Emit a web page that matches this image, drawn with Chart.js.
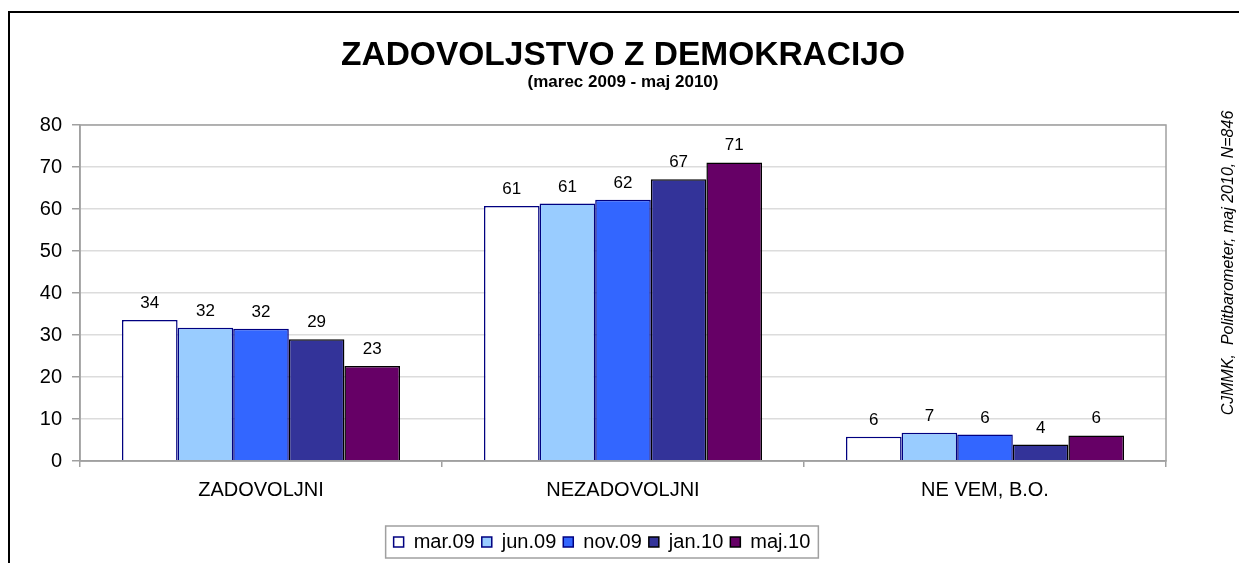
<!DOCTYPE html>
<html>
<head>
<meta charset="utf-8">
<script src="https://cdn.jsdelivr.net/npm/chart.js@4/dist/chart.umd.min.js"></script>
<style>
  body { margin: 0; background: #fff; }
  #wrap { width: 1239px; height: 563px; }
</style>
</head>
<body>
<div id="wrap"><canvas id="c" width="1239" height="563"></canvas></div>
<script>
// categories and series
const categories = ["ZADOVOLJNI", "NEZADOVOLJNI", "NE VEM, B.O."];
const mar09 = [33.6, 60.7, 5.8];
const jun09 = [31.7, 61.3, 6.7];
const nov09 = [31.5, 62.2, 6.3];
const jan10 = [29.0, 67.1, 3.9];
const maj10 = [22.6, 71.1, 6.1];
const seriesNames = ["mar.09", "jun.09", "nov.09", "jan.10", "maj.10"];
const yTicks = [0, 10, 20, 30, 40, 50, 60, 70, 80];

const FONT = "Arial, 'Liberation Sans', sans-serif";
const fills = ["#ffffff", "#99ccff", "#3366ff", "#333399", "#660066"];
const borders = ["#000080", "#000080", "#000080", "#000000", "#000000"];

const datasets = [mar09, jun09, nov09, jan10, maj10].map((d, i) => ({
  label: seriesNames[i],
  data: d,
  backgroundColor: fills[i],
  borderColor: borders[i],
  borderWidth: 1.5,
  categoryPercentage: 0.768,
  barPercentage: 1.0
}));

// frame, plot border, legend box, value labels, source note
const extras = {
  id: "extras",
  beforeDraw(chart) {
    const ctx = chart.ctx;
    ctx.save();
    ctx.fillStyle = "#fff";
    ctx.fillRect(0, 0, chart.width, chart.height);
    ctx.strokeStyle = "#000";
    ctx.lineWidth = 2;
    ctx.strokeRect(9, 12, chart.width + 20, chart.height + 20);
    ctx.restore();
  },
  afterDatasetsDraw(chart) {
    const ctx = chart.ctx;
    const a = chart.chartArea;
    ctx.save();
    ctx.strokeStyle = "#a0a0a0";
    ctx.lineWidth = 1.5;
    ctx.strokeRect(a.left, a.top, a.right - a.left, a.bottom - a.top);
    ctx.fillStyle = "#000";
    ctx.font = "17px " + FONT;
    ctx.textAlign = "center";
    ctx.textBaseline = "alphabetic";
    chart.data.datasets.forEach((ds, i) => {
      chart.getDatasetMeta(i).data.forEach((bar, j) => {
        ctx.fillText(String(Math.round(ds.data[j])), bar.x, bar.y - 12);
      });
    });
    ctx.restore();
  },
  afterDraw(chart) {
    const ctx = chart.ctx;
    const boxes = chart.legend.legendHitBoxes;
    if (boxes && boxes.length) {
      let l = Infinity, r = -Infinity, t = Infinity, b = -Infinity;
      boxes.forEach(h => {
        l = Math.min(l, h.left); r = Math.max(r, h.left + h.width);
        t = Math.min(t, h.top); b = Math.max(b, h.top + h.height);
      });
      ctx.save();
      ctx.strokeStyle = "#a0a0a0";
      ctx.lineWidth = 1.5;
      ctx.strokeRect(l - 8, t - 6, r - l + 16, b - t + 12);
      ctx.restore();
    }
    ctx.save();
    ctx.translate(1229, 263);
    ctx.rotate(-Math.PI / 2);
    ctx.fillStyle = "#000";
    ctx.font = "italic 16px " + FONT;
    ctx.textAlign = "center";
    ctx.textBaseline = "middle";
    ctx.fillText("CJMMK,  Politbarometer, maj 2010, N=846", 0, 0);
    ctx.restore();
  }
};

new Chart(document.getElementById("c"), {
  type: "bar",
  data: { labels: categories, datasets: datasets },
  plugins: [extras],
  options: {
    responsive: false,
    animation: false,
    layout: { padding: { left: 38, right: 73, top: 12, bottom: 1 } },
    plugins: {
      title: {
        display: true,
        fullSize: false,
        text: "ZADOVOLJSTVO Z DEMOKRACIJO",
        color: "#000",
        font: { family: FONT, size: 33.5, weight: "bold", lineHeight: 1 },
        padding: { top: 27, bottom: 0 }
      },
      subtitle: {
        display: true,
        fullSize: false,
        text: "(marec 2009 - maj 2010)",
        color: "#000",
        font: { family: FONT, size: 17, weight: "bold", lineHeight: 1 },
        padding: { top: 1, bottom: 34.5 }
      },
      legend: {
        position: "bottom",
        labels: {
          color: "#000",
          font: { family: FONT, size: 20 },
          boxWidth: 10,
          boxHeight: 10,
          padding: 7
        }
      },
      tooltip: { enabled: false }
    },
    scales: {
      x: {
        grid: { drawOnChartArea: false, offset: true, tickLength: 6, tickColor: "#a0a0a0", lineWidth: 1.5 },
        border: { color: "#a0a0a0", width: 1.5 },
        ticks: { color: "#000", font: { family: FONT, size: 20 }, padding: 11 },
        afterFit(scale) { scale.height = 64; }
      },
      y: {
        min: 0,
        max: 80,
        afterBuildTicks(scale) { scale.ticks = yTicks.map(v => ({ value: v })); },
        grid: { color: "#dcdcdc", lineWidth: 1.5, tickLength: 8, tickColor: "#a0a0a0" },
        border: { color: "#a0a0a0", width: 1.5 },
        ticks: { color: "#000", font: { family: FONT, size: 20 }, padding: 10 },
        afterFit(scale) { scale.width = 42; }
      }
    }
  }
});
</script>
</body>
</html>
